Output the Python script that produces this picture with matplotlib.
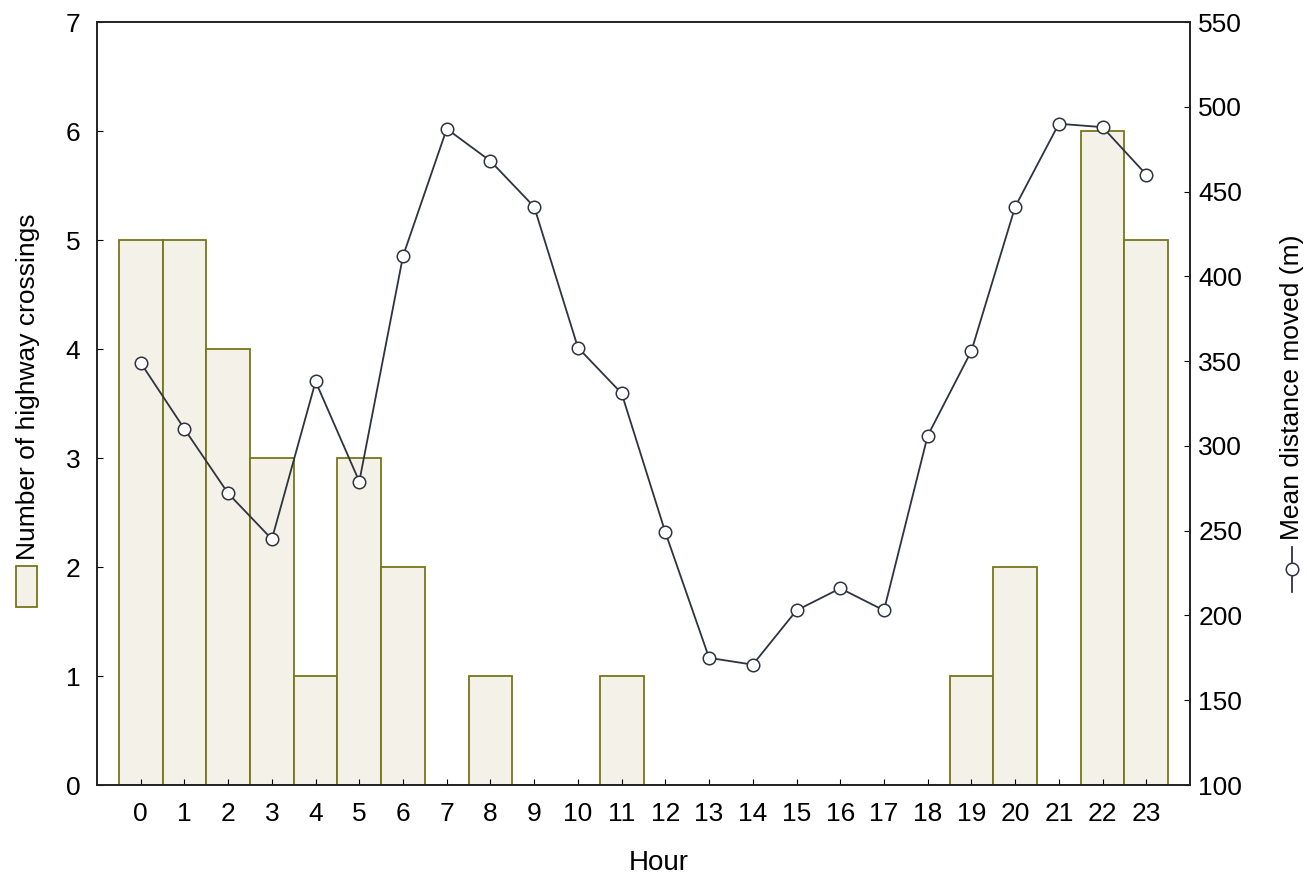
import matplotlib
matplotlib.use("Agg")
import matplotlib.pyplot as plt
from matplotlib.patches import Rectangle
from matplotlib.lines import Line2D

hours = list(range(24))
crossings = [5, 5, 4, 3, 1, 3, 2, 0, 1, 0, 0, 1, 0, 0, 0, 0, 0, 0, 0, 1, 2, 0, 6, 5]
distance = [349, 310, 272, 245, 338, 279, 412, 487, 468, 441, 358, 331, 249,
            175, 171, 203, 216, 203, 306, 356, 441, 490, 488, 460]

bar_face = "#f4f2e8"
bar_edge = "#76761a"
line_col = "#2f3340"

plt.rcParams['font.family'] = ['Liberation Sans', 'DejaVu Sans']
fs = 19

fig = plt.figure(figsize=(13.07, 8.74), dpi=100)
ax = fig.add_axes([0.0742, 0.1018, 0.8363, 0.873])

ax.bar(hours, crossings, width=1.0, color=bar_face, edgecolor=bar_edge, linewidth=1.3)
ax.set_xlim(-1, 24)
ax.set_ylim(0, 7)
ax.set_xticks(hours)
ax.set_yticks(range(8))
ax.tick_params(direction='in', labelsize=fs, length=4, pad=12)
ax.set_xlabel("Hour", fontsize=fs + 1)
ax.xaxis.set_label_coords(0.514, -0.085)

ax2 = ax.twinx()
ax2.plot(hours, distance, color=line_col, linewidth=1.3, marker='o', markersize=9,
         markerfacecolor='white', markeredgecolor=line_col, markeredgewidth=1.1)
ax2.set_ylim(100, 550)
ax2.set_yticks(range(100, 551, 50))
ax2.tick_params(direction='in', labelsize=fs, length=4, pad=6)

for a in (ax, ax2):
    for s in a.spines.values():
        s.set_linewidth(1.2)
        s.set_color("#222222")

# left axis label with bar symbol
fig.text(28 / 1307, 1 - 560 / 874, "Number of highway crossings", rotation=90,
         fontsize=fs, ha='center', va='bottom')
fig.patches.append(Rectangle((16 / 1307, 1 - 607 / 874), 21 / 1307, 41 / 874,
                             transform=fig.transFigure, facecolor=bar_face,
                             edgecolor=bar_edge, linewidth=1.3))

# right axis label with line symbol
fig.text(1292 / 1307, 1 - 540 / 874, "Mean distance moved (m)", rotation=90,
         fontsize=fs, ha='center', va='bottom')
fig.lines.append(Line2D([1292 / 1307, 1292 / 1307], [1 - 592 / 874, 1 - 547 / 874],
                        transform=fig.transFigure, color=line_col, linewidth=1.3))
fig.lines.append(Line2D([1292 / 1307], [1 - 569 / 874], transform=fig.transFigure,
                        marker='o', markersize=9, markerfacecolor='white',
                        markeredgecolor=line_col, markeredgewidth=1.1, linestyle='none'))

fig.savefig("out.png", dpi=100)
